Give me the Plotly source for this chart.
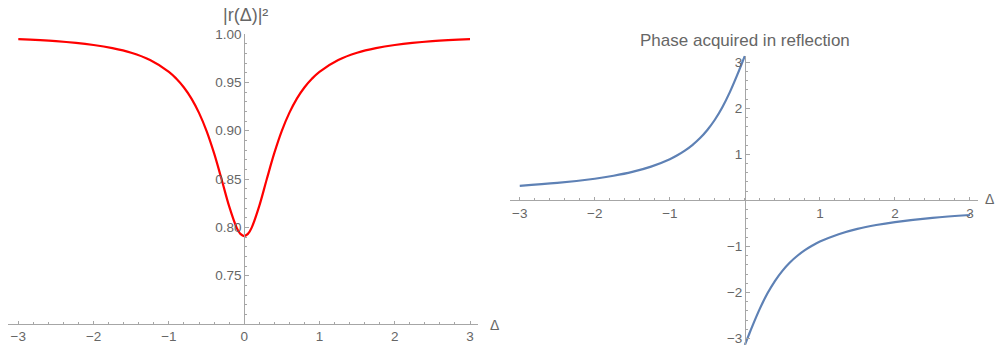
import plotly.graph_objects as go

# |r(Δ)|² (symmetric about Δ=0)
delta_amp = [-3, -2.5, -2, -1.75, -1.5, -1.25, -1, -0.9, -0.8, -0.7, -0.6, -0.5, -0.4, -0.3, -0.2, -0.1, -0.05, 0,
             0.05, 0.1, 0.2, 0.3, 0.4, 0.5, 0.6, 0.7, 0.8, 0.9, 1, 1.25, 1.5, 1.75, 2, 2.5, 3]
r2 = [0.9948, 0.9926, 0.9886, 0.9854, 0.9806, 0.9731, 0.9609, 0.9537, 0.9447, 0.9332, 0.9184, 0.8998, 0.8767, 0.8497,
      0.8219, 0.7997, 0.7932, 0.7910,
      0.7932, 0.7997, 0.8219, 0.8497, 0.8767, 0.8998, 0.9184, 0.9332, 0.9447, 0.9537, 0.9609, 0.9731, 0.9806, 0.9854,
      0.9886, 0.9926, 0.9948]

# Phase acquired in reflection, two branches
delta_neg = [-3, -2.5, -2, -1.75, -1.5, -1.25, -1, -0.9, -0.8, -0.7, -0.6, -0.5, -0.4, -0.3, -0.2, -0.1, -0.05, -0.02, 0]
phase_neg = [0.317, 0.379, 0.471, 0.535, 0.619, 0.734, 0.895, 0.980, 1.081, 1.202, 1.349, 1.530, 1.752, 2.024, 2.352,
             2.731, 2.934, 3.058, 3.1416]
delta_pos = [0, 0.02, 0.05, 0.1, 0.2, 0.3, 0.4, 0.5, 0.6, 0.7, 0.8, 0.9, 1, 1.25, 1.5, 1.75, 2, 2.5, 3]
phase_pos = [-3.1416, -3.058, -2.934, -2.731, -2.352, -2.024, -1.752, -1.530, -1.349, -1.202, -1.081, -0.980, -0.895,
             -0.734, -0.619, -0.535, -0.471, -0.379, -0.317]

x_ticks = [-3, -2, -1, 0, 1, 2, 3]
x_ticks_right = [-3, -2, -1, 1, 2, 3]
y_ticks_left = [0.75, 0.80, 0.85, 0.90, 0.95, 1.00]
y_ticks_right = [-3, -2, -1, 1, 2, 3]

W, H = 997, 351


def px(x):
    return x / W


def py(y):
    return 1 - y / H


AX = '#a6a6a6'
LBL = '#666666'
FONT = 'Liberation Sans, Arial, sans-serif'

fig = go.Figure()
fig.add_trace(go.Scatter(x=delta_amp, y=r2, mode='lines', line=dict(color='#ff0000', width=2.2, shape='spline'),
                         xaxis='x', yaxis='y', showlegend=False))
fig.add_trace(go.Scatter(x=delta_neg, y=phase_neg, mode='lines', line=dict(color='#5e81b5', width=2.2, shape='spline'),
                         xaxis='x2', yaxis='y2', showlegend=False))
fig.add_trace(go.Scatter(x=delta_pos, y=phase_pos, mode='lines', line=dict(color='#5e81b5', width=2.2, shape='spline'),
                         xaxis='x2', yaxis='y2', showlegend=False))


def common(**kw):
    d = dict(showgrid=False, zeroline=False, showline=True, linecolor=AX, linewidth=1, automargin=False,
             ticks='inside', ticklen=3.5, tickcolor=AX, tickwidth=1,
             tickfont=dict(size=13.5, color=LBL, family=FONT), fixedrange=True)
    d.update(kw)
    return d


fig.update_layout(
    width=W, height=H, margin=dict(l=0, r=0, t=0, b=0, autoexpand=False),
    paper_bgcolor='white', plot_bgcolor='white',
    font=dict(family=FONT),
    xaxis=common(domain=[px(8), px(478)], range=[-3.137, 3.106], anchor='y',
                 tickmode='array', tickvals=x_ticks, ticktext=['\u22123', '\u22122', '\u22121', '0', '1', '2', '3'],
                 minor=dict(tickmode='linear', tick0=0, dtick=0.2, ticks='inside', ticklen=2, tickcolor=AX)),
    yaxis=common(domain=[py(324), py(34)], range=[0.70, 1.00], anchor='free', position=px(244.2),
                 tickmode='array', tickvals=y_ticks_left, ticktext=['0.75', '0.80', '0.85', '0.90', '0.95', '1.00'],
                 minor=dict(tickmode='linear', tick0=0.7, dtick=0.01, ticks='inside', ticklen=2, tickcolor=AX)),
    xaxis2=common(domain=[px(510), px(978)], range=[-3.13, 3.107], anchor='free', position=py(200.3),
                  tickmode='array', tickvals=x_ticks_right, ticktext=['\u22123', '\u22122', '\u22121', '1', '2', '3'],
                  minor=dict(tickmode='linear', tick0=0, dtick=0.2, ticks='inside', ticklen=2, tickcolor=AX)),
    yaxis2=common(domain=[py(345), py(55.8)], range=[-3.1416, 3.1416], anchor='free', position=px(745),
                  tickmode='array', tickvals=y_ticks_right, ticktext=['\u22123', '\u22122', '\u22121', '1', '2', '3'],
                  minor=dict(tickmode='linear', tick0=0, dtick=0.2, ticks='inside', ticklen=2, tickcolor=AX)),
    annotations=[
        dict(text='|r(\u0394)|\u00b2', x=px(245), y=py(15), xref='paper', yref='paper', showarrow=False,
             xanchor='center', yanchor='middle', font=dict(size=18, color=LBL, family=FONT)),
        dict(text='Phase acquired in reflection', x=px(745), y=py(41), xref='paper', yref='paper', showarrow=False,
             xanchor='center', yanchor='middle', font=dict(size=17, color=LBL, family=FONT)),
        dict(text='\u0394', x=px(494), y=py(325), xref='paper', yref='paper', showarrow=False,
             xanchor='center', yanchor='middle', font=dict(size=14, color=LBL, family=FONT)),
        dict(text='\u0394', x=px(996), y=py(199), xref='paper', yref='paper', showarrow=False,
             xanchor='right', yanchor='middle', font=dict(size=14, color=LBL, family=FONT)),
    ],
)

fig.write_html('out.html', config={'displayModeBar': False},
               post_script="document.body.style.margin='0';document.body.style.overflow='hidden';")
